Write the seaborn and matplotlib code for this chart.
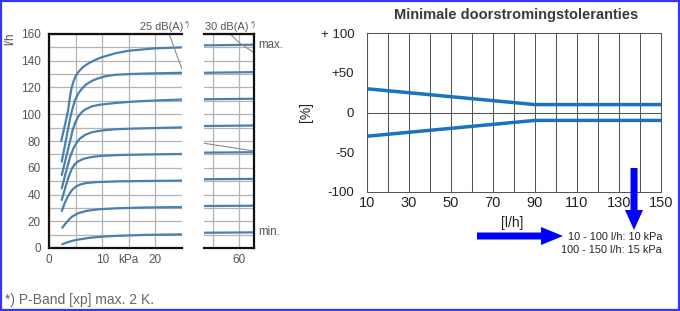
import numpy as np
import pandas as pd
import matplotlib
matplotlib.use("Agg")
import matplotlib.pyplot as plt
import seaborn as sns
from matplotlib.patches import FancyArrow, Rectangle

# ---------------- data ----------------
# left chart: flow (l/h) vs pressure (kPa), one curve per valve setting
curve_names = ["150", "130", "110", "90", "70", "50", "30", "10"]
x150 = [2.3, 3.0, 3.6, 3.9, 4.2, 4.6, 5.0, 5.5, 6.3, 7.4, 8.6, 9.9, 12.5, 15, 20, 25]
y150 = [80, 92, 103, 112, 119, 124.5, 128.5, 131.5, 135, 138, 140.5, 142.6, 145.6, 147.5, 149.3, 150]
x130 = [2.4, 3.2, 4.0, 4.5, 4.9, 5.5, 6.2, 7.0, 8.0, 9.2, 10.6, 12.5, 16, 20, 25]
y130 = [64.5, 81, 97.5, 105.5, 110.5, 115.5, 119.2, 122.3, 124.8, 126.8, 128.4, 129.5, 130.2, 130.6, 131]
x110 = [2.4, 3.2, 4.0, 4.4, 4.9, 5.5, 6.2, 6.8, 8.0, 9.3, 11, 12.5, 16, 20, 25]
y110 = [54.6, 67.5, 80.5, 87.5, 93.5, 98.3, 101.7, 103.6, 105.8, 107, 107.8, 108.4, 109.5, 110.3, 111]
x90 = [2.4, 3.2, 4.0, 4.6, 5.2, 5.8, 6.8, 8.0, 9.3, 11, 12.5, 16, 20, 25]
y90 = [44.6, 57, 68.5, 74.5, 78.8, 81.8, 84.6, 86.5, 87.5, 88.3, 88.8, 89.3, 89.7, 90.2]
x70 = [2.4, 3.2, 3.8, 4.3, 4.8, 5.4, 6.5, 8.0, 9.6, 13, 18, 25]
y70 = [35.9, 47, 54.5, 59.3, 62.3, 64.6, 66.7, 68, 68.8, 69.5, 69.9, 70.3]
x50 = [2.4, 3.0, 3.6, 4.3, 5.0, 5.8, 7.0, 9.0, 12.8, 18, 25]
y50 = [27.7, 34, 39, 43.2, 45.8, 47.4, 48.6, 49.3, 49.8, 50.1, 50.4]
x30 = [2.5, 3.2, 4.3, 5.5, 7.1, 9.5, 12.8, 18, 25]
y30 = [15.2, 18.8, 23.4, 26, 27.8, 29, 29.7, 30.3, 30.6]
x10 = [2.5, 3.5, 4.5, 5.8, 8.0, 10.5, 12.8, 18, 25]
y10 = [2.8, 4.3, 5.5, 6.5, 7.8, 8.6, 9.1, 9.8, 10.2]

# right-hand (broken axis) segment near 60 kPa
seg_x = [53.4, 62.8]
seg_y = {"150": [151.5, 152], "130": [131, 131.5], "110": [111.2, 111.6],
         "90": [91.2, 91.6], "70": [71.3, 71.6], "50": [51.4, 51.7],
         "30": [31.4, 31.6], "10": [11.4, 11.7]}

# noise-level limit curves
db25_x = [22.6, 23.5, 24.4, 25.0]
db25_y = [160, 150, 140, 134]
db30_x = [58.3, 60.1, 62.8]
db30_y = [160, 153, 146]
aux_x = [53.4, 62.8]
aux_y = [78.3, 72.5]

# right chart: flow tolerance
tol_x = [10, 90, 150]
tol_upper = [30, 10, 10]
tol_lower = [-30, -10, -10]

left_yticks = [0, 20, 40, 60, 80, 100, 120, 140, 160]
left_xticks = [0, 10, 15, 20]
left_xlabels = ["0", "10", "kPa", "20"]
right_yticks = [100, 50, 0, -50, -100]
right_ylabels = ["+ 100", "+50", "0", "-50", "-100"]
right_xticks = list(range(10, 151, 20))

# ---------------- style ----------------
sns.set_theme(style="white")
plt.rcParams["font.family"] = ["Liberation Sans", "DejaVu Sans"]

W, H = 680, 311
fig = plt.figure(figsize=(W / 100, H / 100), dpi=100)
fig.patch.set_facecolor("white")

def fax(x0, y0, x1, y1):
    return fig.add_axes([x0 / W, 1 - y1 / H, (x1 - x0) / W, (y1 - y0) / H])

CURVE = "#4a80b0"
GRIDL = "#b4b4b4"
TXT = "#555555"

curves = {"150": (x150, y150), "130": (x130, y130), "110": (x110, y110),
          "90": (x90, y90), "70": (x70, y70), "50": (x50, y50),
          "30": (x30, y30), "10": (x10, y10)}
rows = []
for name in curve_names:
    xs, ys = curves[name]
    for a, b in zip(xs, ys):
        rows.append({"curve": name, "kPa": a, "flow": b})
df_main = pd.DataFrame(rows)
rows = []
for name in curve_names:
    for a, b in zip(seg_x, seg_y[name]):
        rows.append({"curve": name, "kPa": a, "flow": b})
df_seg = pd.DataFrame(rows)

# ---- left panel 1 ----
ax1 = fax(49, 34, 182, 248)
ax1.set_xlim(0, 25)
ax1.set_ylim(0, 160)
ax1.set_xticks(left_xticks)
ax1.set_xticks([5], minor=True)
ax1.set_xticklabels(left_xlabels, fontsize=8.5, color=TXT)
ax1.set_yticks(left_yticks)
ax1.set_yticks(np.arange(10, 160, 20), minor=True)
ax1.set_yticklabels([str(v) for v in left_yticks], fontsize=8.5, color=TXT)
ax1.tick_params(which="both", length=0)
ax1.tick_params(axis="y", pad=6)
ax1.tick_params(axis="x", pad=4)
ax1.grid(True, which="both", color=GRIDL, lw=0.9)
ax1.set_axisbelow(True)
sns.lineplot(data=df_main, x="kPa", y="flow", units="curve", estimator=None,
             sort=False, color=CURVE, lw=1.6, ax=ax1, legend=False)
sns.lineplot(x=db25_x, y=db25_y, color="#8a8a8a", lw=0.8, ax=ax1, sort=False)
ax1.set_xlabel("")
ax1.set_ylabel("")
for s in ["top", "left", "bottom"]:
    ax1.spines[s].set_color("#111111")
    ax1.spines[s].set_linewidth(1.6)
ax1.spines["right"].set_visible(False)

# ---- left panel 2 ----
ax2 = fax(204, 34, 254, 248)
ax2.set_xlim(53.37, 62.76)
ax2.set_ylim(0, 160)
ax2.set_xticks([60])
ax2.set_xticks([55], minor=True)
ax2.set_xticklabels(["60"], fontsize=8.5, color=TXT)
ax2.set_yticks(left_yticks)
ax2.set_yticks(np.arange(10, 160, 20), minor=True)
ax2.set_yticklabels([])
ax2.tick_params(which="both", length=0)
ax2.tick_params(axis="x", pad=4)
ax2.grid(True, which="both", color=GRIDL, lw=0.9)
ax2.set_axisbelow(True)
sns.lineplot(data=df_seg, x="kPa", y="flow", units="curve", estimator=None,
             sort=False, color=CURVE, lw=1.6, ax=ax2, legend=False)
sns.lineplot(x=db30_x, y=db30_y, color="#8a8a8a", lw=0.8, ax=ax2, sort=False)
sns.lineplot(x=aux_x, y=aux_y, color="#8a8a8a", lw=0.8, ax=ax2, sort=False)
ax2.set_xlabel("")
ax2.set_ylabel("")
for s in ["top", "right", "bottom"]:
    ax2.spines[s].set_color("#111111")
    ax2.spines[s].set_linewidth(1.6)
ax2.spines["left"].set_visible(False)

# ---- right chart ----
ax3 = fax(366.7, 33.3, 661, 191.7)
ax3.set_xlim(10, 150)
ax3.set_ylim(-100, 100)
ax3.set_xticks(right_xticks)
ax3.set_xticks(np.arange(20, 150, 20), minor=True)
ax3.set_xticklabels([str(v) for v in right_xticks], fontsize=10.5, color="#222222")
ax3.set_yticks(right_yticks)
ax3.set_yticklabels(right_ylabels, fontsize=9.5, color="#222222")
ax3.tick_params(which="both", length=0)
ax3.tick_params(axis="y", pad=9)
ax3.tick_params(axis="x", pad=3)
ax3.grid(False)
ax3.xaxis.grid(True, which="both", color="#555555", lw=0.75)
ax3.axhline(0, color="#555555", lw=0.75)
ax3.set_axisbelow(True)
tol_df = pd.DataFrame({"flow": tol_x * 2, "tol": tol_upper + tol_lower,
                       "side": ["upper"] * 3 + ["lower"] * 3})
sns.lineplot(data=tol_df, x="flow", y="tol", units="side", estimator=None,
             color="#1a72c0", lw=2.5, ax=ax3, legend=False)
ax3.set_xlabel("")
ax3.set_ylabel("")
for s in ax3.spines.values():
    s.set_color("#555555")
    s.set_linewidth(0.75)

# ---- overlay for annotations ----
ov = fig.add_axes([0, 0, 1, 1], zorder=10)
ov.set_xlim(0, W)
ov.set_ylim(H, 0)
ov.axis("off")
ov.patch.set_alpha(0)

ov.text(516, 15, "Minimale doorstromingstoleranties", ha="center", va="center",
        fontsize=10.5, fontweight="bold", color="#3a3a3a")
ov.text(10, 39, "l/h", rotation=90, ha="center", va="center", fontsize=8.5, color=TXT)
ov.text(183, 30, "25 dB(A)", ha="right", va="baseline", fontsize=7.9, color=TXT)
ov.text(185, 25.5, "*)", ha="left", va="baseline", fontsize=5, color=TXT)
ov.text(248.5, 30, "30 dB(A)", ha="right", va="baseline", fontsize=7.9, color=TXT)
ov.text(250.5, 25.5, "*)", ha="left", va="baseline", fontsize=5, color=TXT)
ov.text(258, 45, "max.", ha="left", va="center", fontsize=8.3, color=TXT)
ov.text(258, 232, "min.", ha="left", va="center", fontsize=8.3, color=TXT)
ov.text(5, 300, "*) P-Band [xp] max. 2 K.", ha="left", va="center", fontsize=10, color="#666666")

ov.text(306, 112, "[%]", rotation=90, ha="center", va="center", fontsize=10, color="#222222")
ov.text(512, 223, "[l/h]", ha="center", va="center", fontsize=10, color="#222222")
ov.text(662, 237, "10 - 100 l/h: 10 kPa", ha="right", va="center", fontsize=7.8, color="#222222")
ov.text(662, 250, "100 - 150 l/h: 15 kPa", ha="right", va="center", fontsize=7.8, color="#222222")

ov.add_patch(FancyArrow(477, 236, 86, 0, width=7, head_width=18, head_length=22,
                        length_includes_head=True, color="#0000ff", lw=0))
ov.add_patch(FancyArrow(634, 168, 0, 62, width=7, head_width=18, head_length=20,
                        length_includes_head=True, color="#0000ff", lw=0))
ov.add_patch(Rectangle((1, 1), W - 2, H - 2, fill=False, edgecolor="#3535ff", lw=1.6))

fig.savefig("out.png", dpi=100)
